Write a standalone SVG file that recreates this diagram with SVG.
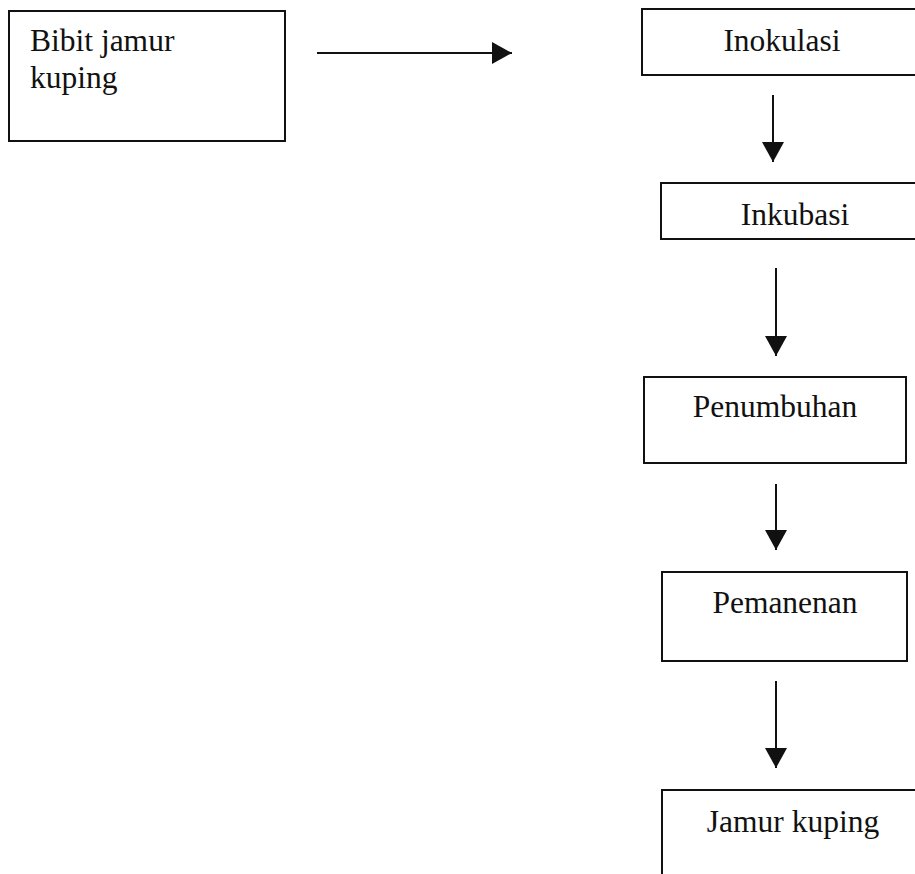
<svg xmlns="http://www.w3.org/2000/svg" width="915" height="874" viewBox="0 0 915 874">
<style>
.box{fill:#fff;stroke:#111;stroke-width:2}
.t{font-family:"Liberation Serif","Times New Roman",serif;font-size:31.5px;fill:#111}
.c{text-anchor:middle}
.e{stroke:#111;stroke-width:2;fill:none}
</style>
<defs>
<marker id="ah" markerWidth="20" markerHeight="22" refX="20" refY="11" orient="auto" markerUnits="userSpaceOnUse">
<path d="M0,0 L20,11 L0,22 Z" fill="#111"/>
</marker>
</defs>
<rect width="915" height="874" fill="#fff"/>
<g id="n-bibit">
<rect class="box" x="9" y="11" width="276" height="130"/>
<text class="t" x="30" y="51">Bibit jamur</text>
<text class="t" x="30" y="88">kuping</text>
</g>
<g id="n-inokulasi">
<rect class="box" x="642" y="9" width="290" height="66"/>
<text class="t c" x="782" y="51">Inokulasi</text>
</g>
<g id="n-inkubasi">
<rect class="box" x="661" y="183" width="270" height="56"/>
<text class="t c" x="795" y="225">Inkubasi</text>
</g>
<g id="n-penumbuhan">
<rect class="box" x="644" y="377" width="262" height="86"/>
<text class="t c" x="775" y="417">Penumbuhan</text>
</g>
<g id="n-pemanenan">
<rect class="box" x="662" y="572" width="245" height="89"/>
<text class="t c" x="785" y="613">Pemanenan</text>
</g>
<g id="n-jamur">
<rect class="box" x="662" y="790" width="270" height="100"/>
<text class="t c" x="793" y="832">Jamur kuping</text>
</g>
<g id="connectors">
<line class="e" x1="317" y1="53" x2="512" y2="53" marker-end="url(#ah)"/>
<line class="e" x1="773" y1="95" x2="773" y2="162" marker-end="url(#ah)"/>
<line class="e" x1="776" y1="268" x2="776" y2="356" marker-end="url(#ah)"/>
<line class="e" x1="776" y1="484" x2="776" y2="550" marker-end="url(#ah)"/>
<line class="e" x1="776" y1="681" x2="776" y2="768" marker-end="url(#ah)"/>
</g>
</svg>
